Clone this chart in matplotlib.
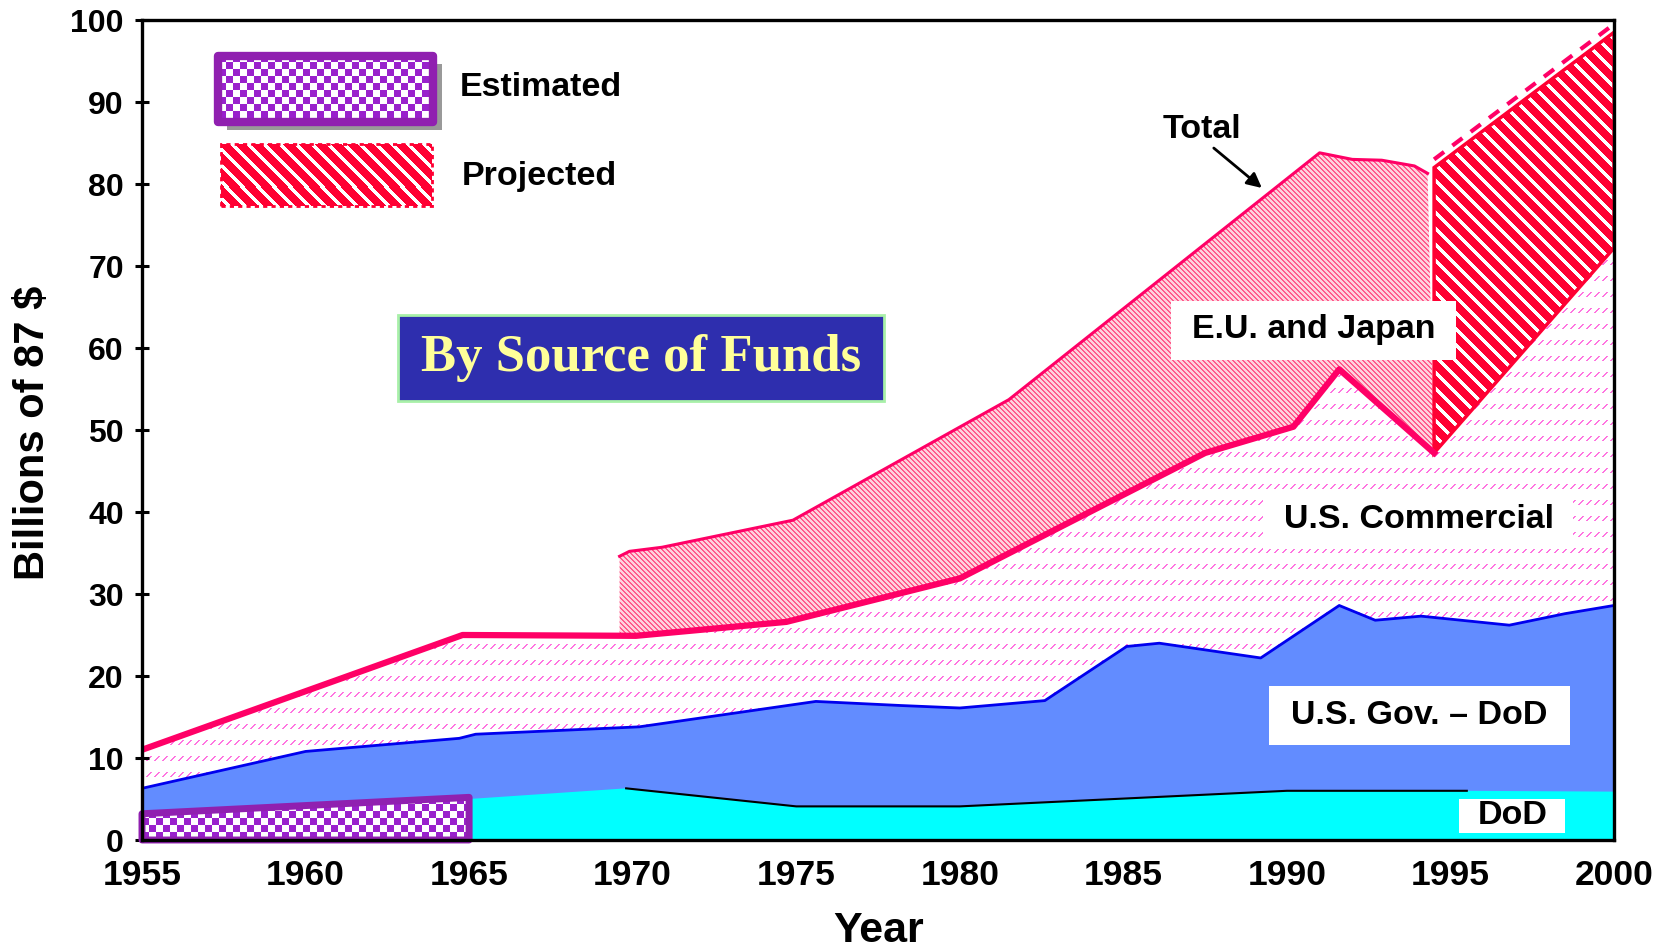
import numpy as np
import matplotlib
matplotlib.use('Agg')
import matplotlib.pyplot as plt
from matplotlib.patches import Polygon, Rectangle

plt.rcParams['font.family'] = ['Liberation Sans', 'DejaVu Sans']
plt.rcParams['font.weight'] = 'bold'

# ---------------- data (billions of 1987 $) ----------------
dod_years = [1955, 1965, 1969.8, 1975, 1980, 1990, 1995.5, 2000]
dod_vals = [3.0, 5.0, 6.3, 4.1, 4.1, 6.0, 6.0, 5.9]

est_years = [1955, 1965]
est_vals = [3.2, 5.2]

gov_years = [1955, 1960, 1964.7, 1965.2, 1970.2, 1975.6, 1978.2, 1980, 1982.6,
             1985.1, 1986.1, 1989.2, 1991.6, 1992.7, 1994.1, 1996.8, 1998.5, 2000]
gov_vals = [6.3, 10.8, 12.4, 12.9, 13.8, 16.9, 16.4, 16.1, 17.0,
            23.6, 24.0, 22.2, 28.6, 26.8, 27.3, 26.2, 27.6, 28.6]

com_years = [1955, 1964.8, 1970.1, 1974.7, 1980.0, 1987.5, 1990.2, 1991.6, 1994.5, 2000]
com_vals = [11.0, 25.0, 24.9, 26.6, 31.9, 47.2, 50.4, 57.4, 47.2, 72.2]

total_years = [1969.6, 1969.9, 1970.9, 1974.9, 1981.5, 1991.0, 1992.0, 1992.9, 1993.9, 1994.3]
total_vals = [34.6, 35.2, 35.7, 39.0, 53.7, 83.8, 83.0, 82.9, 82.2, 81.3]

proj_years = [1994.5, 2000]
proj_total = [82.0, 98.5]

x_ticks = [1955, 1960, 1965, 1970, 1975, 1980, 1985, 1990, 1995, 2000]
y_ticks = [0, 10, 20, 30, 40, 50, 60, 70, 80, 90, 100]

# ---------------- figure ----------------
DPI = 100
fig = plt.figure(figsize=(16.54, 9.48), dpi=DPI)
AX_L, AX_B, AX_W, AX_H = 142 / 1654, 108 / 948, 1472 / 1654, 820 / 948
ax = fig.add_axes([AX_L, AX_B, AX_W, AX_H])
X0, X1, Y0, Y1 = 1955, 2000, 0, 100

PW, PH = 1472, 820
yy, xx = np.mgrid[0:PH, 0:PW]


def make_tex(kind):
    img = np.ones((PH, PW, 3))
    if kind == 'com':
        m = (((xx + yy) % 8) < 2) & ((yy % 16) < 5)
        img[m] = (1.0, 0.46, 0.88)
    elif kind == 'eu':
        m = ((xx - yy) % 5) < 2
        img[:] = (1.0, 0.82, 0.87)
        img[m] = (1.0, 0.36, 0.55)
    elif kind == 'proj':
        m = ((xx - yy) % 16) < 11
        img[m] = (1.0, 0.0, 0.2)
    elif kind == 'check':
        m = ((xx // 7 + yy // 7) % 2) == 0
        img[m] = (0.60, 0.13, 0.80)
    return img


TEX = {k: make_tex(k) for k in ('com', 'eu', 'proj', 'check')}


def tex_fill(kind, clip, z):
    im = ax.imshow(TEX[kind], extent=[X0, X1, Y0, Y1], aspect='auto',
                   interpolation='nearest', origin='upper', zorder=z)
    im.set_clip_path(clip)
    return im


# U.S. commercial region
com_poly = Polygon(np.column_stack([com_years + [2000, 1955], com_vals + [0, 0]]),
                   closed=True, facecolor='white', edgecolor='none', zorder=1)
ax.add_patch(com_poly)
tex_fill('com', com_poly, 1.1)

# U.S. Gov - DoD region
gov_poly = Polygon(np.column_stack([gov_years + [2000, 1955], gov_vals + [0, 0]]),
                   closed=True, facecolor='#628CFF', edgecolor='none', zorder=2)
ax.add_patch(gov_poly)

# DoD region
dod_poly = Polygon(np.column_stack([dod_years + [2000, 1955], dod_vals + [0, 0]]),
                   closed=True, facecolor='#00FFFF', edgecolor='none', zorder=3)
ax.add_patch(dod_poly)

# E.U. and Japan region (between commercial and total)
t_end = total_years[-1]
t_start = total_years[0]
inner = [(y, v) for y, v in zip(com_years, com_vals) if t_start < y < t_end + 0.3]
eu_x = total_years + [y for y, _ in inner[::-1]] + [t_start]
eu_y = total_vals + [v for _, v in inner[::-1]] + [float(np.interp(t_start, com_years, com_vals))]
eu_poly = Polygon(np.column_stack([eu_x, eu_y]), closed=True, facecolor='none',
                  edgecolor='none', zorder=2)
ax.add_patch(eu_poly)
tex_fill('eu', eu_poly, 2.1)

# Projected region
proj_x = proj_years + [com_years[-1], com_years[-2]]
proj_y = proj_total + [com_vals[-1], com_vals[-2]]
proj_poly = Polygon(np.column_stack([proj_x, proj_y]), closed=True, facecolor='none',
                    edgecolor='#FF0033', lw=2.5, zorder=2.6)
ax.add_patch(proj_poly)
tex_fill('proj', proj_poly, 2.5)

# Estimated region (checker)
est_poly = Polygon(np.column_stack([[est_years[0]] + est_years + [est_years[-1]],
                                    [0] + est_vals + [0]]),
                   closed=True, facecolor='none', edgecolor='#9020B0', lw=5,
                   joinstyle='round', zorder=4.5, clip_on=False)
ax.add_patch(est_poly)
tex_fill('check', est_poly, 4)

# Lines
ax.plot(gov_years, gov_vals, color='#0000EE', lw=2, zorder=5)
ax.plot(dod_years[2:7], dod_vals[2:7], color='black', lw=1.5, zorder=5)
ax.plot(com_years[:-1], com_vals[:-1], color='#FF0066', lw=4.5, zorder=6,
        solid_joinstyle='round')
ax.plot(total_years, total_vals, color='#FF0066', lw=2.2, zorder=6)
ax.plot(proj_years, np.array(proj_total) + 1.0, color='#FF0066', lw=3,
        ls=(0, (3, 2.5)), zorder=6)

# ---------------- axes styling ----------------
ax.set_xlim(X0, X1)
ax.set_ylim(Y0, Y1)
ax.set_xticks(x_ticks)
ax.set_yticks(y_ticks)
ax.set_xticklabels([str(t) for t in x_ticks], fontsize=25.5, fontweight='bold')
ax.set_yticklabels([str(t) for t in y_ticks], fontsize=23, fontweight='bold')
ax.tick_params(axis='y', direction='inout', length=10, width=2.2, pad=8)
ax.tick_params(axis='x', direction='out', length=0, pad=14)
for s in ax.spines.values():
    s.set_linewidth(2.4)
    s.set_color('black')
    s.set_zorder(9)

# ---------------- annotations ----------------
fig.text(32.7 / 1654, 1 - 432.5 / 948, 'Billions of 87 $', rotation=90,
         ha='center', va='center', fontsize=30, fontweight='bold')
fig.text(878.7 / 1654, 1 - 931 / 948, 'Year', ha='center', va='center',
         fontsize=31, fontweight='bold')

# Title box
ax.add_patch(Rectangle((0.1739, 0.5354), 0.330, 0.1049, transform=ax.transAxes,
                       facecolor='#2E2EAE', edgecolor='#A8F0A8', lw=2, zorder=8))
ax.text(0.339, 0.5878, 'By Source of Funds', transform=ax.transAxes, ha='center',
        va='center', fontsize=38, fontweight='bold', color='#FFFF99',
        family=['Liberation Serif', 'DejaVu Serif'], zorder=9)


def label_box(x0, y0, w, h, cx, cy, txt):
    ax.add_patch(Rectangle((x0, y0), w, h, transform=ax.transAxes,
                           facecolor='white', edgecolor='none', zorder=8))
    ax.text(cx, cy, txt, transform=ax.transAxes, ha='center', va='center',
            fontsize=24.5, fontweight='bold', color='black', zorder=9)


label_box(0.699, 0.585, 0.1936, 0.072, 0.7959, 0.6225, 'E.U. and Japan')
label_box(0.7615, 0.355, 0.2107, 0.0695, 0.8674, 0.3905, 'U.S. Commercial')
label_box(0.7656, 0.116, 0.2043, 0.0722, 0.8677, 0.1524, 'U.S. Gov. \u2013 DoD')
label_box(0.8947, 0.008, 0.0723, 0.0425, 0.9309, 0.0293, 'DoD')

ax.text(1987.4, 86.7, 'Total', ha='center', va='center', fontsize=24.5,
        fontweight='bold', zorder=9)
ax.annotate('', xy=(1989.3, 79.3), xytext=(1987.7, 84.6),
            arrowprops=dict(arrowstyle='-|>', color='black', lw=2,
                            mutation_scale=22), zorder=9)

# Legend: Estimated
ax.add_patch(Rectangle((0.0516 + 0.006, 0.876 - 0.010), 0.146, 0.080,
                       transform=ax.transAxes, facecolor='#999999',
                       edgecolor='none', zorder=7))
ax.add_patch(Rectangle((0.0516, 0.876), 0.146, 0.080, transform=ax.transAxes,
                       facecolor='white', edgecolor='none', zorder=7.2))
est_leg = Rectangle((0.0516, 0.876), 0.146, 0.080, transform=ax.transAxes,
                    facecolor='none', edgecolor='#9020B0', lw=6,
                    joinstyle='round', zorder=7.6)
ax.add_patch(est_leg)
tex_fill('check', est_leg, 7.4)
ax.text(0.216, 0.918, 'Estimated', transform=ax.transAxes, ha='left',
        va='center', fontsize=24.5, fontweight='bold', zorder=9)

# Legend: Projected
proj_leg = Rectangle((0.0537, 0.7729), 0.1433, 0.0757, transform=ax.transAxes,
                     facecolor='none', edgecolor='#FF0033', lw=2,
                     ls=(0, (1.5, 1.5)), zorder=7.6)
ax.add_patch(proj_leg)
tex_fill('proj', proj_leg, 7.4)
ax.text(0.2174, 0.8095, 'Projected', transform=ax.transAxes, ha='left',
        va='center', fontsize=24.5, fontweight='bold', zorder=9)

fig.savefig('out.png', dpi=DPI)
